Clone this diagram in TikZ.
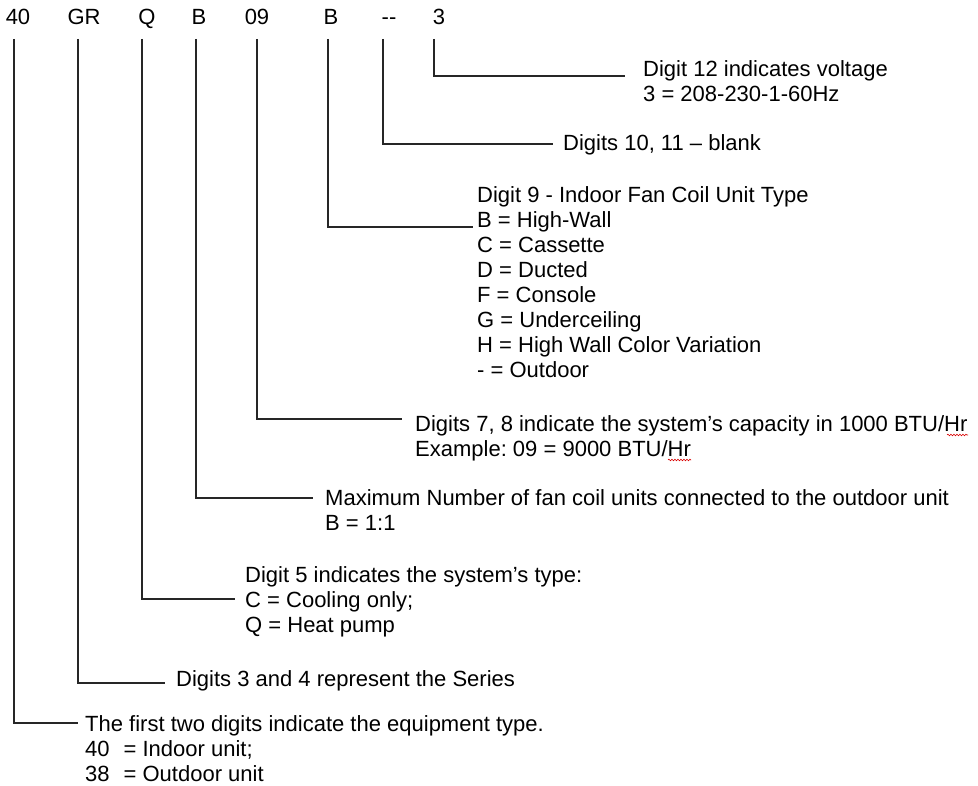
\documentclass[tikz,border=0pt]{standalone}
\usepackage{fontspec}
\setmainfont{Liberation Sans}
\usetikzlibrary{positioning, decorations.pathmorphing}
\colorlet{leadgray}{black!85}
\colorlet{spellred}{red!85!black}
\tikzset{
  code/.style={anchor=base, inner sep=0pt},
  desc/.style={anchor=north west, align=left, inner sep=0pt},
  leader/.style={draw=leadgray, line width=1.1pt},
  spell/.style={draw=spellred, line width=0.6pt, decorate,
    decoration={snake, amplitude=0.8pt, segment length=3pt}},
}
\frenchspacing

\begin{document}
\begin{tikzpicture}[x=1pt, y=-1pt, font=\fontsize{22}{25}\selectfont]
    \useasboundingbox (0,0) rectangle (978,786);

    % Model number, one node per field
    \node[code] (c40) at (18,25) {40};
    \node[code] (cgr) at (84,25) {GR};
    \node[code] (cq) at (147,25) {Q};
    \node[code] (cb) at (199,25) {B};
    \node[code] (c09) at (257,25) {09};
    \node[code] (cfan) at (331,25) {B};
    \node[code] (cblank) at (389,25) {-{}-};
    \node[code] (cvolt) at (439,25) {3};

    % Descriptions
    \node[desc] (dvolt) at (643,60)
      {Digit 12 indicates voltage\\3 = 208-230-1-60Hz};
    \node[desc] (dblank) at (563,134) {Digits 10, 11 -- blank};
    \node[desc] (dfan) at (477,186)
      {Digit 9 - Indoor Fan Coil Unit Type\\B = High-Wall\\C = Cassette\\
       D = Ducted\\F = Console\\G = Underceiling\\
       H = High Wall Color Variation\\- = Outdoor};
    \node[desc] (d09) at (415,415)
      {Digits 7, 8 indicate the system’s capacity in 1000 BTU/Hr\\
       Example: 09 = 9000 BTU/Hr};
    \node[desc] (db) at (325,489)
      {Maximum Number of fan coil units connected to the outdoor unit\\B = 1:1};
    \node[desc] (dq) at (245,566)
      {Digit 5 indicates the system’s type:\\C = Cooling only;\\Q = Heat pump};
    \node[desc] (dgr) at (176,670) {Digits 3 and 4 represent the Series};
    \node[desc] (d40) at (85,715)
      {The first two digits indicate the equipment type.\\
       40\hspace{14pt}= Indoor unit;\\38\hspace{14pt}= Outdoor unit};

    % Leader lines: top under each field, end next to its text
    \coordinate (t40) at (14,39);
    \coordinate (tgr) at (78,39);
    \coordinate (tq) at (142,39);
    \coordinate (tb) at (196,39);
    \coordinate (t09) at (257,39);
    \coordinate (tfan) at (328,39);
    \coordinate (tblank) at (383,39);
    \coordinate (tvolt) at (434,39);

    \coordinate (evolt) at (625,76);
    \coordinate (eblank) at (553,144);
    \coordinate (efan) at (473,227);
    \coordinate (e09) at (402,419);
    \coordinate (eb) at (313,498);
    \coordinate (eq) at (235,599);
    \coordinate (egr) at (165,683);
    \coordinate (e40) at (78,723);

    \foreach \f in {40, gr, q, b, 09, fan, blank, volt} {
      \draw[leader] (t\f) |- (e\f);
    }

    % Spell-check marks under Hr
    \draw[spell] (947,435) -- (968,435);
    \draw[spell] (668,460) -- (691,460);

  \end{tikzpicture}
\end{document}
